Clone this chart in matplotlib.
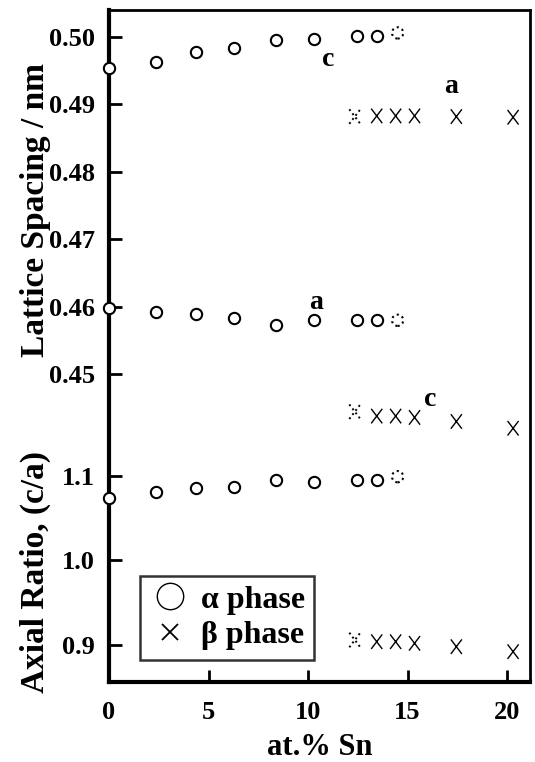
import matplotlib
matplotlib.use("Agg")
import matplotlib.pyplot as plt
from matplotlib.lines import Line2D
from matplotlib.path import Path

plt.rcParams['font.family'] = ['Liberation Serif', 'DejaVu Serif']
plt.rcParams['font.weight'] = 'bold'

# ---- data ----
alpha_x = [0, 2.35, 4.35, 6.3, 8.4, 10.3, 12.45, 13.45]
alpha_c = [0.4954, 0.4963, 0.4977, 0.4983, 0.4995, 0.4997, 0.5002, 0.5002]
alpha_a = [0.4598, 0.4592, 0.4590, 0.4583, 0.4573, 0.4581, 0.4580, 0.4580]
alpha_ratio = [1.0736, 1.0807, 1.0854, 1.0866, 1.0953, 1.0933, 1.0953, 1.0953]
alpha_dot_x = [14.5]
alpha_dot_c = [0.5006]
alpha_dot_a = [0.4580]
alpha_dot_ratio = [1.0992]

beta_x = [13.45, 14.4, 15.35, 17.45, 20.3]
beta_a = [0.4883, 0.4883, 0.4883, 0.4882, 0.4881]
beta_c = [0.4438, 0.4438, 0.4436, 0.4430, 0.4420]
beta_ratio = [0.9039, 0.9039, 0.9020, 0.8980, 0.8921]
beta_dot_x = [12.35]
beta_dot_a = [0.4882]
beta_dot_c = [0.44445]
beta_dot_ratio = [0.9059]

lat_ticks = [0.45, 0.46, 0.47, 0.48, 0.49, 0.50]
lat_ticklabels = ["0.45", "0.46", "0.47", "0.48", "0.49", "0.50"]
ratio_ticks = [0.9, 1.0, 1.1]
ratio_ticklabels = ["0.9", "1.0", "1.1"]
x_ticks = [0, 5, 10, 15, 20]
x_ticklabels = ["0", "5", "10", "15", "20"]

fig = plt.figure(figsize=(5.35, 7.62), dpi=100)
pos = [109/535, 1-682/762, 421/535, 672/762]
ax1 = fig.add_axes(pos)
ax2 = fig.add_axes(pos, sharex=ax1)
ax2.patch.set_visible(False)
for s in ax2.spines.values():
    s.set_visible(False)

ax1.set_xlim(0, 21.15)
ax1.set_ylim(0.40438, 0.50400)
ax2.set_ylim(0.8562, 1.6515)

for side in ['left', 'bottom']:
    ax1.spines[side].set_linewidth(3.0)
for side in ['top', 'right']:
    ax1.spines[side].set_linewidth(2.0)

tick_kw = dict(direction='in', length=9, width=2.0, labelsize=19)
ax1.set_yticks(lat_ticks)
ax1.set_yticklabels(lat_ticklabels)
ax2.set_yticks(ratio_ticks)
ax2.set_yticklabels(ratio_ticklabels)
ax1.set_xticks(x_ticks)
ax1.set_xticklabels(x_ticklabels)
ax1.tick_params(axis='y', pad=10, **tick_kw)
ax2.tick_params(axis='y', pad=10, **tick_kw)
ax1.tick_params(axis='x', pad=14, **tick_kw)
ax2.tick_params(axis='x', bottom=False, labelbottom=False)
for lab in ax1.get_yticklabels() + ax2.get_yticklabels() + ax1.get_xticklabels():
    lab.set_fontweight('bold')

xpath = Path([(-0.38, -0.5), (0.38, 0.5), (-0.38, 0.5), (0.38, -0.5)],
             [Path.MOVETO, Path.LINETO, Path.MOVETO, Path.LINETO])

circ_kw = dict(marker='o', s=66, facecolors='white', edgecolors='black',
               linewidths=1.5, zorder=5, clip_on=False)
dot_circ_kw = dict(marker='o', s=66, facecolors='none', edgecolors='black',
                   linewidths=1.5, linestyles=':', zorder=5)
x_kw = dict(marker=xpath, s=110, facecolors='none', edgecolors='black',
            linewidths=1.0, zorder=5)
dot_x_kw = dict(marker=xpath, s=110, facecolors='none', edgecolors='black',
                linewidths=1.4, linestyles=':', zorder=5)

ax1.scatter(alpha_x, alpha_c, **circ_kw)
ax1.scatter(alpha_x, alpha_a, **circ_kw)
ax2.scatter(alpha_x, alpha_ratio, **circ_kw)
ax1.scatter(alpha_dot_x, alpha_dot_c, **dot_circ_kw)
ax1.scatter(alpha_dot_x, alpha_dot_a, **dot_circ_kw)
ax2.scatter(alpha_dot_x, alpha_dot_ratio, **dot_circ_kw)

ax1.scatter(beta_x, beta_a, **x_kw)
ax1.scatter(beta_x, beta_c, **x_kw)
ax2.scatter(beta_x, beta_ratio, **x_kw)
ax1.scatter(beta_dot_x, beta_dot_a, **dot_x_kw)
ax1.scatter(beta_dot_x, beta_dot_c, **dot_x_kw)
ax2.scatter(beta_dot_x, beta_dot_ratio, **dot_x_kw)

lab_kw = dict(fontsize=20, fontweight='bold', ha='center', va='center')
ax1.text(11.0, 0.4966, 'c', **lab_kw)
ax1.text(17.2, 0.4926, 'a', **lab_kw)
ax1.text(10.4, 0.4607, 'a', **lab_kw)
ax1.text(16.15, 0.4463, 'c', **lab_kw)

ax1.set_xlabel('at.% Sn', fontsize=22, fontweight='bold', labelpad=6)
fig.text(0.066, 1-210/762, 'Lattice Spacing / nm', rotation=90, fontsize=24,
         fontweight='bold', ha='center', va='center')
fig.text(0.066, 1-572/762, 'Axial Ratio, (c/a)', rotation=90, fontsize=24,
         fontweight='bold', ha='center', va='center')

handles = [Line2D([], [], marker='o', linestyle='none', markersize=19,
                  markerfacecolor='none', markeredgecolor='black', markeredgewidth=1.0),
           Line2D([], [], marker='x', linestyle='none', markersize=11,
                  color='black', markeredgewidth=1.3)]
leg = ax2.legend(handles, ['α phase', 'β phase'], loc='lower left',
                 bbox_to_anchor=((140-109)/421, (682-660)/672), frameon=True,
                 fancybox=False, edgecolor='black', prop={'size': 23, 'weight': 'bold'},
                 handletextpad=0.3, borderpad=0.3, labelspacing=0.2,
                 handlelength=1.3, borderaxespad=0)
leg.get_frame().set_linewidth(1.8)

fig.savefig('out.png', dpi=100)
